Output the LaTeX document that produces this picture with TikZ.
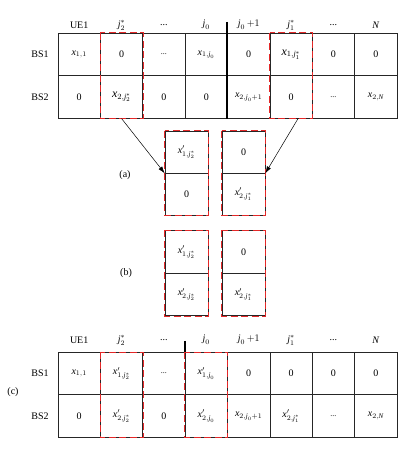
\documentclass[tikz,border=0pt]{standalone}
\usepackage{amsmath}
\usepackage{fontspec}
\setmainfont{Liberation Serif}
\usetikzlibrary{calc,arrows.meta}
\definecolor{rd}{RGB}{228,40,40}
\newcommand{\vx}{\textit{x}}
\newcommand{\vj}{\textit{j}}
\newcommand{\vN}{\textit{N}}
\begin{document}
\begin{tikzpicture}[x=1pt,y=-1pt,
  cell/.style={draw=black!85,line width=0.6pt,minimum width=42.4pt,minimum height=42.5pt,inner sep=0pt,font=\fontsize{10}{12}\selectfont},
  lbl/.style={inner sep=0pt,font=\fontsize{10}{12}\selectfont},
  reddash/.style={draw=rd,line width=0.9pt,dash pattern=on 7pt off 3.5pt},
  heavy/.style={draw=black,line width=1.5pt},
  arr/.style={-{Latex[length=7pt,width=4.5pt]},line width=0.5pt}]
\useasboundingbox (0,0) rectangle (415,449);
% ---------- top table ----------
\foreach \i/\h/\a/\b in {1/UE1/{$\vx_{1,1}$}/0,
  2/{$\vj_2^*$}/0/{\large$\vx_{2,\vj_2^*}$},
  3/{...}/{\footnotesize...}/0,
  4/{$\vj_0$}/{$\vx_{1,\vj_0}$}/0,
  5/{$\vj_0\,{+}1$}/0/{$\vx_{2,\vj_0+1}$},
  6/{$\vj_1^*$}/{\large$\vx_{1,\vj_1^*}$}/0,
  7/{...}/0/{\footnotesize...},
  8/{$\vN$}/0/{$\vx_{2,\vN}$}}{
  \node[cell] (T1\i) at ({58+42.375*(\i-0.5)},54.5) {\a};
  \node[cell] (T2\i) at ({58+42.375*(\i-0.5)},97) {\b};
  \node[lbl] (H\i) at ({58+42.375*(\i-0.5)},25) {\h};
}
\node[lbl] (R1) at (40,54.5) {BS1};
\node[lbl] (R2) at (40,97) {BS2};
\draw[heavy] ($(T15.north west)+(0,-11)$) coordinate (hv1) -- (T25.south west);
\draw[reddash] (T12.north west) rectangle (T22.south east);
\draw[reddash] (T16.north west) rectangle (T26.south east);
% ---------- (a) ----------
\node[cell,minimum width=43pt,minimum height=42pt] (aL1) at (186.5,152) {$\vx'_{1,\vj_2^*}$};
\node[cell,minimum width=43pt,minimum height=42pt] (aL2) at (186.5,194) {0};
\node[cell,minimum width=43pt,minimum height=42pt] (aR1) at (243.5,152) {0};
\node[cell,minimum width=43pt,minimum height=42pt] (aR2) at (243.5,194) {$\vx'_{2,\vj_1^*}$};
\draw[reddash] (aL1.north west) rectangle (aL2.south east);
\draw[reddash] (aR1.north west) rectangle (aR2.south east);
\node[lbl] (la) at (125,175) {(a)};
\draw[arr] (T22.south) -- (aL1.south west);
\draw[arr] ($(T26.south)+(7,0)$) -- (aR1.south east);
% ---------- (b) ----------
\node[cell,minimum width=43pt,minimum height=42.5pt] (bL1) at (186.5,252) {$\vx'_{1,\vj_2^*}$};
\node[cell,minimum width=43pt,minimum height=42.5pt] (bL2) at (186.5,294.5) {$\vx'_{2,\vj_2^*}$};
\node[cell,minimum width=43pt,minimum height=42.5pt] (bR1) at (243.5,252) {0};
\node[cell,minimum width=43pt,minimum height=42.5pt] (bR2) at (243.5,294.5) {$\vx'_{2,\vj_1^*}$};
\draw[reddash] (bL1.north west) rectangle (bL2.south east);
\draw[reddash] (bR1.north west) rectangle (bR2.south east);
\node[lbl] (lb) at (126,273) {(b)};
% ---------- (c) ----------
\foreach \i/\h/\a/\b in {1/UE1/{$\vx_{1,1}$}/0,
  2/{$\vj_2^*$}/{$\vx'_{1,\vj_2^*}$}/{$\vx'_{2,\vj_2^*}$},
  3/{...}/{\footnotesize...}/0,
  4/{$\vj_0$}/{$\vx'_{1,\vj_0}$}/{$\vx'_{2,\vj_0}$},
  5/{$\vj_0\,{+}1$}/0/{$\vx_{2,\vj_0+1}$},
  6/{$\vj_1^*$}/0/{$\vx'_{2,\vj_1^*}$},
  7/{...}/0/{\footnotesize...},
  8/{$\vN$}/0/{$\vx_{2,\vN}$}}{
  \node[cell] (C1\i) at ({58+42.375*(\i-0.5)},373.5) {\a};
  \node[cell] (C2\i) at ({58+42.375*(\i-0.5)},416) {\b};
  \node[lbl] (G\i) at ({58+42.375*(\i-0.5)},340) {\h};
}
\node[lbl] (S1) at (40,373.5) {BS1};
\node[lbl] (S2) at (40,416) {BS2};
\node[lbl] (lc) at (13,392) {(c)};
\draw[heavy] ($(C14.north west)+(0,-11)$) coordinate (hv2) -- (C14.north west);
\draw[reddash] (C12.north west) rectangle (C22.south east);
\draw[reddash] (C14.north west) rectangle (C24.south east);
\end{tikzpicture}
\end{document}
